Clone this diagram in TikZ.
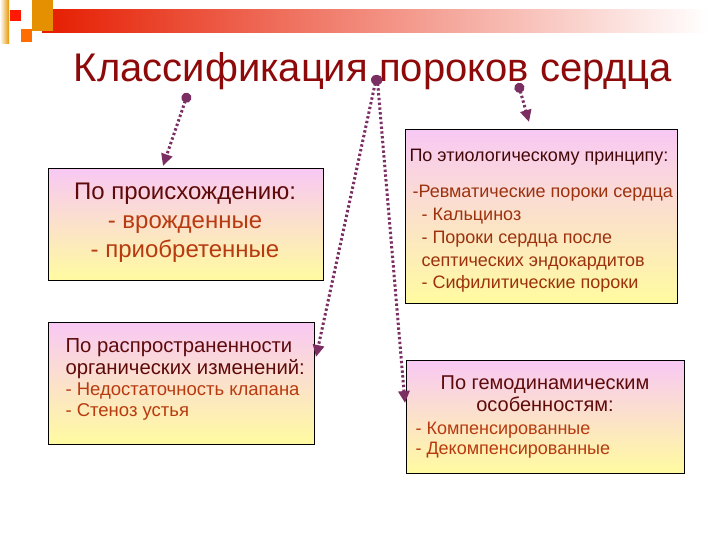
\documentclass[tikz,border=0pt]{standalone}
\usepackage{fontspec}
\setmainfont{Liberation Sans}
\usetikzlibrary{arrows.meta}

\definecolor{titlered}{HTML}{8E0A0A}
\definecolor{headred}{HTML}{5E0A0A}
\definecolor{itemred}{HTML}{B83A10}
\definecolor{linkpurple}{HTML}{7A2E62}
\definecolor{boxpink}{HTML}{F8C8F4}
\definecolor{boxyellow}{HTML}{FFFBA0}

\tikzset{
  kindbox/.style={draw=black,line width=0.9pt,anchor=north west,inner sep=0pt,
    top color=boxpink,bottom color=boxyellow},
  link/.style={linkpurple,line width=3pt,dash pattern=on 2.4pt off 2.4pt,
    {Circle[length=10pt]}-{Triangle[length=12pt,width=11pt]}},
}

\begin{document}
\begin{tikzpicture}[x=1pt,y=-1pt]
        \useasboundingbox (0,0) rectangle (720,540);

        % 1. Header band
        \shade[left color=red!75!orange!90!black,right color=white] (42,10) rectangle (708,33);
        \shade[left color=white,right color=orange!70!yellow!90!black] (0,0) rectangle (9,44);
        \fill[red!80!orange] (10,10) rectangle (21,21);
        \fill[orange!75!yellow!90!black] (32,0) rectangle (53,31);
        \fill[orange!85!red] (21,29) rectangle (32,42);
        \node (title) at (373,71) [text=titlered,font=\fontsize{40}{42}\selectfont] {Классификация пороков сердца};

        % 2. Boxes
        \node (box1) at (48,168) [kindbox,minimum width=275pt,minimum height=112pt] {};
        \node (box2) at (405,129) [kindbox,minimum width=272pt,minimum height=174pt] {};
        \node (box3) at (48,322) [kindbox,minimum width=266pt,minimum height=122pt] {};
        \node (box4) at (406,360) [kindbox,minimum width=278pt,minimum height=113pt] {};

        % Box texts
        \node (txt1) at (185,223) [align=center,font=\fontsize{24}{29}\selectfont] {%
          \textcolor{headred}{По происхождению:}\\
          \textcolor{itemred}{- врожденные}\\
          \textcolor{itemred}{- приобретенные}};
        \node (head2) at (406,157) [anchor=west,text=headred!70!black,font=\fontsize{18}{20}\selectfont] {По этиологическому принципу:};
        \node (txt2) at (418,239) [anchor=west,align=left,text=itemred!85!black,font=\fontsize{18}{22.8}\selectfont] {%
          \hspace*{-9pt}-Ревматические пороки сердца\\
          - Кальциноз\\
          - Пороки сердца после\\
          септических эндокардитов\\
          - Сифилитические пороки};
        \node (txt3) at (62,359) [anchor=west,align=left,text=headred,font=\fontsize{20.3}{22}\selectfont] {%
          По распространенности\\
          органических изменений:};
        \node (txt3b) at (62,402) [anchor=west,align=left,text=itemred,font=\fontsize{18.5}{21}\selectfont] {%
          - Недостаточность клапана\\
          - Стеноз устья};
        \node (txt4) at (545,394) [align=center,text=headred,font=\fontsize{20}{22}\selectfont] {%
          По гемодинамическим\\
          особенностям:};
        \node (txt4b) at (412,440) [anchor=west,align=left,text=itemred,font=\fontsize{18}{20}\selectfont] {%
          - Компенсированные\\
          - Декомпенсированные};

        % 3. Links from the title
        \coordinate (from1) at (188,93);
        \coordinate (from2) at (377,75);
        \coordinate (from3) at (518,83);
        \coordinate (to1) at (163,166);
        \coordinate (to2) at (316,357);
        \coordinate (to3) at (405,403);
        \coordinate (to4) at (529,122);
        \draw[link] (from1) -- (to1);
        \draw[link] (from2) -- (to2);
        \draw[link] (from2) -- (to3);
        \draw[link] (from3) -- (to4);

    \end{tikzpicture}
\end{document}
